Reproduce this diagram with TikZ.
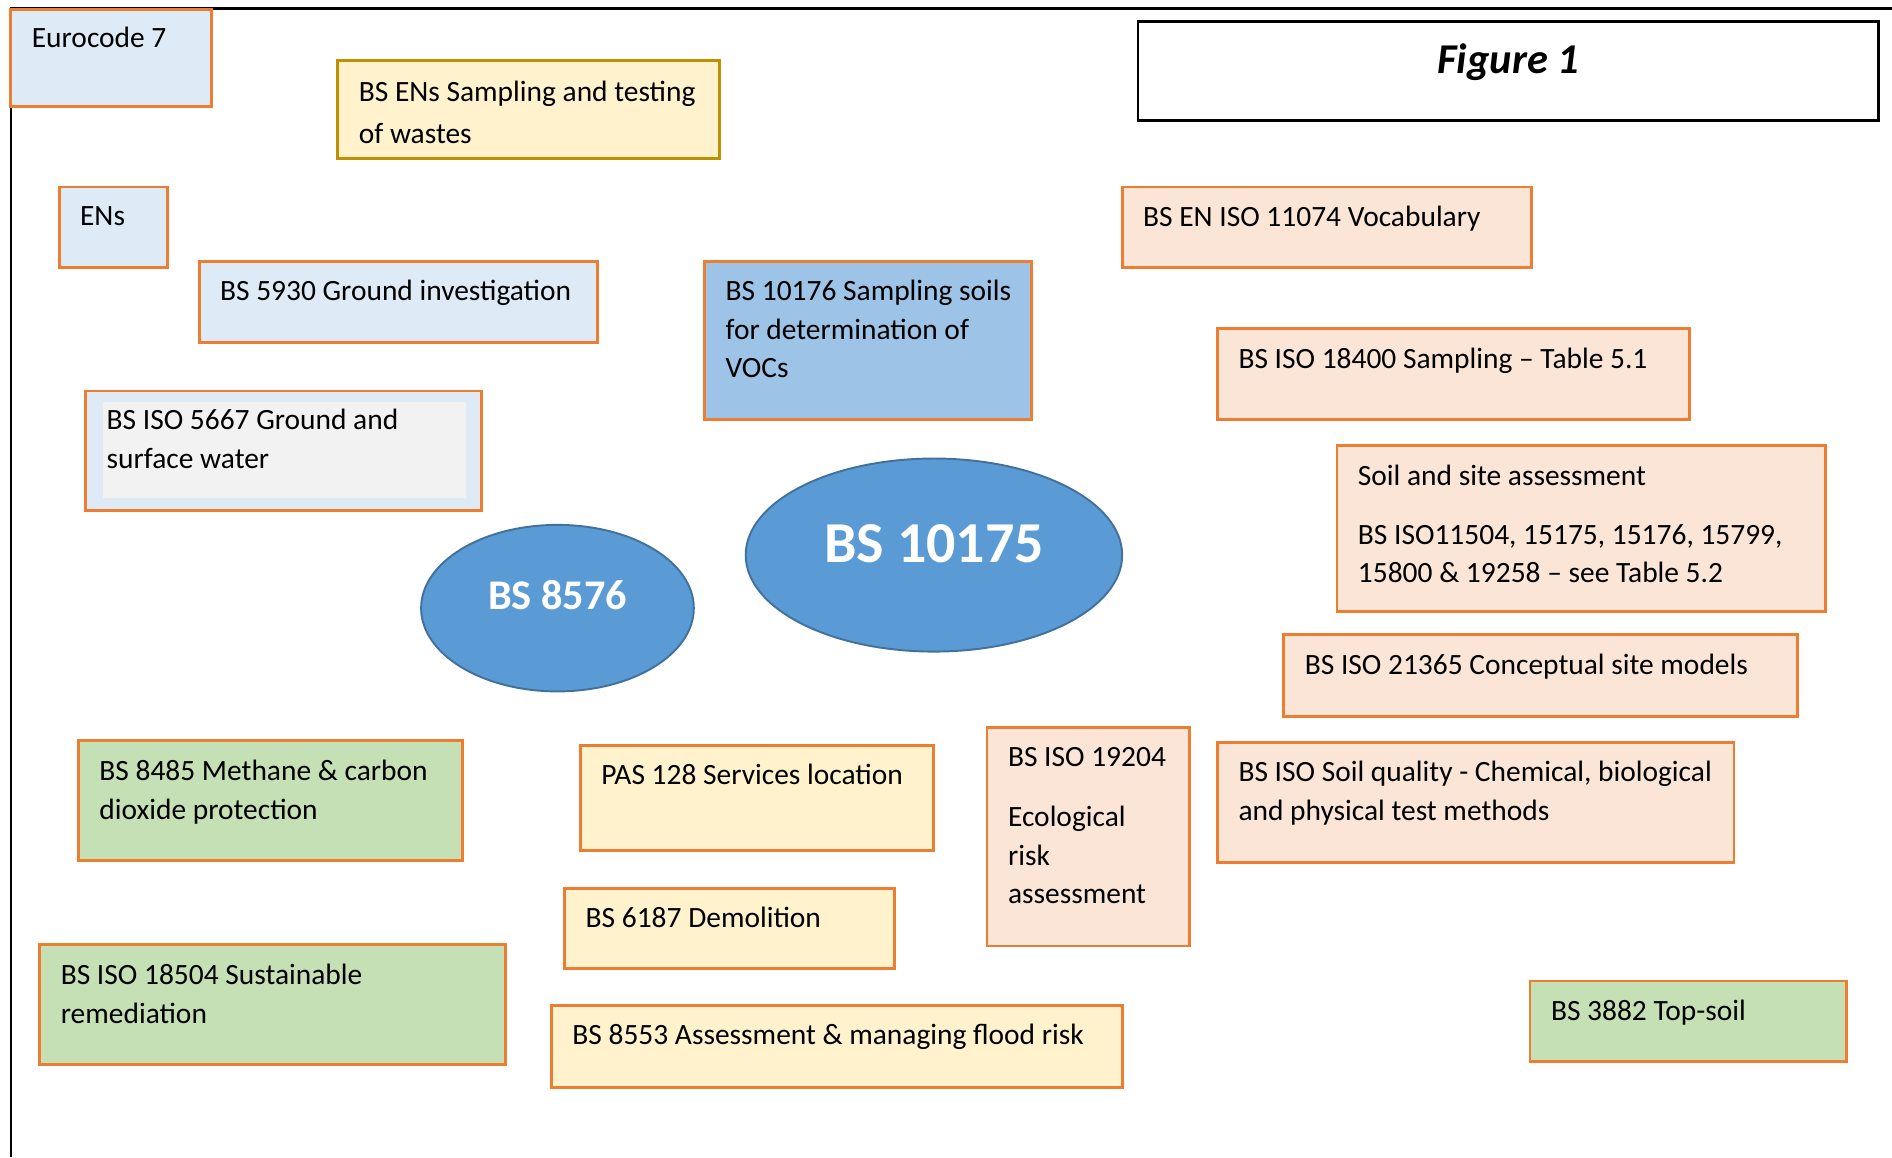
\documentclass[tikz,border=0pt]{standalone}
\usepackage{fontspec}
\setmainfont{Carlito}
\usetikzlibrary{fit,shapes.geometric}
\definecolor{orangeB}{HTML}{ED7D31}
\definecolor{goldB}{HTML}{BF9000}
\definecolor{lightblue}{HTML}{DEEBF7}
\definecolor{midblue}{HTML}{9DC3E6}
\definecolor{yellowF}{HTML}{FFF2CC}
\definecolor{peachF}{HTML}{FBE5D6}
\definecolor{greenF}{HTML}{C5E0B4}
\definecolor{grayF}{HTML}{F2F2F2}
\definecolor{ellF}{HTML}{5B9BD5}
\definecolor{ellB}{HTML}{41719C}
\tikzset{
  frameline/.style={line width=1.1pt, black},
  boxbase/.style={draw=orangeB, line width=1.2pt, inner sep=0pt},
  bluebox/.style={boxbase, fill=lightblue},
  midbluebox/.style={boxbase, fill=midblue},
  yellowbox/.style={boxbase, fill=yellowF},
  goldbox/.style={boxbase, draw=goldB, fill=yellowF},
  peachbox/.style={boxbase, fill=peachF},
  greenbox/.style={boxbase, fill=greenF},
  figbox/.style={draw=black, line width=1.1pt, fill=white, inner sep=0pt},
  txt/.style={anchor=base west, align=left, inner sep=0pt, font=\fontsize{12.2}{16}\selectfont},
  ell/.style={ellipse, draw=ellB, line width=0.8pt, fill=ellF, inner sep=0pt},
  elltxt/.style={anchor=base, inner sep=0pt, text=white},
}
% #7 = baseline of the LAST line of the text
\newcommand\bx[8]{%
  \node[#2, fit={(#3,#4) (#5,#6)}] (#1) {};
  \node[txt] (#1-t) at (#3+17,#7) {#8};
}
\begin{document}
\begin{tikzpicture}[x=0.5pt, y=-0.5pt]
\useasboundingbox (0,0) rectangle (1568,959);
% outer frame
\draw[frameline] (9,959) -- (9,7) -- (1568,7);

\bx{euro}{bluebox}{9}{8}{175}{88}{39}{Eurocode 7}
\bx{bsens}{goldbox}{280}{50}{596}{131}{119}{BS ENs Sampling and testing\\[1.5pt]of wastes}
\bx{ens}{bluebox}{49}{155}{139}{222}{187}{ENs}
\bx{bs5930}{bluebox}{165}{217}{495}{284}{249}{BS 5930 Ground investigation}
\bx{bs10176}{midbluebox}{584}{217}{855}{348}{313}{BS 10176 Sampling soils\\for determination of\\VOCs}
% BS ISO 5667 with inner grey panel
\node[bluebox, fit={(71,324) (399,423)}] (iso5667) {};
\fill[grayF] (85,333) rectangle (386,413);
\node[txt] (iso5667-t) at (88,388) {BS ISO 5667 Ground and\\surface water};

% ellipses
\node[ell, minimum width=113pt, minimum height=69pt] (bs8576) at (462,504) {};
\node[elltxt, font=\bfseries\fontsize{17.5}{20}\selectfont] (bs8576-t) at (462,505) {BS 8576};
\node[ell, minimum width=156pt, minimum height=80pt] (bs10175) at (774,460) {};
\node[elltxt, font=\bfseries\fontsize{24}{28}\selectfont] (bs10175-t) at (774,466.5) {BS 10175};

% Figure 1
\node[figbox, fit={(943,18) (1557,100)}] (fig) {};
\node[anchor=base, inner sep=0pt, font=\bfseries\itshape\fontsize{17.6}{20}\selectfont] (fig-t) at (1250,61) {Figure 1};

% right column
\bx{iso11074}{peachbox}{930}{155}{1269}{222}{188}{BS EN ISO 11074 Vocabulary}
\bx{iso18400}{peachbox}{1009}{272}{1400}{348}{305}{BS ISO 18400 Sampling – Table 5.1}
\bx{soil}{peachbox}{1108}{369}{1513}{507}{483}{Soil and site assessment\\[8.5pt]BS ISO11504, 15175, 15176, 15799,\\15800 \& 19258 – see Table 5.2}
\bx{iso21365}{peachbox}{1064}{526}{1490}{594}{559}{BS ISO 21365 Conceptual site models}
\bx{soilq}{peachbox}{1009}{615}{1437}{715}{680}{BS ISO Soil quality - Chemical, biological\\and physical test methods}
\bx{bs3882}{greenbox}{1268}{813}{1530}{880}{846}{BS 3882 Top-soil}

% lower left / centre
\bx{bs8485}{greenbox}{65}{614}{383}{713}{679}{BS 8485 Methane \& carbon\\dioxide protection}
\bx{pas128}{yellowbox}{481}{618}{774}{705}{650}{PAS 128 Services location}
\bx{iso19204}{peachbox}{818}{603}{986}{784}{749}{BS ISO 19204\\[9pt]Ecological\\risk\\assessment}
\bx{bs6187}{yellowbox}{468}{736}{741}{803}{769}{BS 6187 Demolition}
\bx{iso18504}{greenbox}{33}{783}{419}{882}{848}{BS ISO 18504 Sustainable\\remediation}
\bx{bs8553}{yellowbox}{457}{833}{930}{901}{866}{BS 8553 Assessment \& managing flood risk}
\end{tikzpicture}
\end{document}
